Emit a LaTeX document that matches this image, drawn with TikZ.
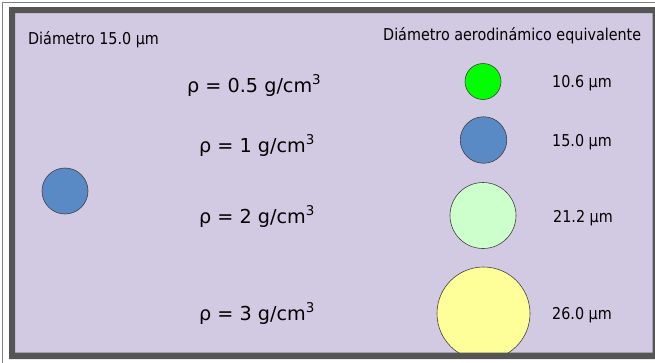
\documentclass[tikz,border=0pt]{standalone}
\usepackage{fontspec}
\setmainfont{DejaVu Sans}
\newfontfamily\narrowfont[FakeStretch=0.88]{DejaVu Sans}
\definecolor{lav}{RGB}{210,202,226}
\definecolor{framegray}{RGB}{85,85,85}
\definecolor{thingray}{RGB}{128,128,128}
\definecolor{pblue}{RGB}{90,138,198}
\definecolor{pgreen}{RGB}{0,255,0}
\definecolor{plgreen}{RGB}{204,255,204}
\definecolor{pyellow}{RGB}{255,255,153}
\definecolor{edge}{RGB}{64,64,64}
\begin{document}
\begin{tikzpicture}[x=1pt,y=-1pt,
  particle/.style={circle, draw=edge, line width=0.6pt, inner sep=0pt},
  smalltxt/.style={anchor=base west, inner sep=0pt, font=\narrowfont\fontsize{16.3}{19}\selectfont},
  bigtxt/.style={anchor=base west, inner sep=0pt, font=\fontsize{19.2}{23}\selectfont}]
\useasboundingbox (0,0) rectangle (655,362);
\clip (0,0) rectangle (655,362);
% page background
\fill[white] (0,0) rectangle (655,362);
\draw[thingray, line width=1pt] (2.5,2.5) rectangle (700,400);
% slide
\fill[lav] (15,13) rectangle (652.5,352.5);
% particles
\begin{scope}
\clip (15,13) rectangle (652.5,352.5);
\node[particle, fill=pblue, minimum size=46pt] (left) at (65,191) {};
\node[particle, fill=pgreen, minimum size=36pt] (p1) at (483,81.5) {};
\node[particle, fill=pblue, minimum size=46.5pt] (p2) at (483.5,140) {};
\node[particle, fill=plgreen, minimum size=66pt] (p3) at (483,215.5) {};
\node[particle, fill=pyellow, minimum size=93pt] (p4) at (483.5,313.5) {};
\end{scope}
% frame
\fill[framegray, even odd rule] (9,7) rectangle (700,359) (15,13) rectangle (652.5,352.5);
% texts
\node[smalltxt] (t0) at (28,44.5) {Diámetro 15.0 μm};
\node[smalltxt] (t1) at (383,40.5) {Diámetro aerodinámico equivalente};
\node[bigtxt] (r1) at (187,92) {ρ = 0.5 g/cm\textsuperscript{3}};
\node[bigtxt] (r2) at (199,152) {ρ = 1 g/cm\textsuperscript{3}};
\node[bigtxt] (r3) at (199,223) {ρ = 2 g/cm\textsuperscript{3}};
\node[bigtxt] (r4) at (199,320) {ρ = 3 g/cm\textsuperscript{3}};
\node[smalltxt] (d1) at (552,87) {10.6 μm};
\node[smalltxt] (d2) at (552,146) {15.0 μm};
\node[smalltxt] (d3) at (553,222) {21.2 μm};
\node[smalltxt] (d4) at (552,319) {26.0 μm};
\end{tikzpicture}
\end{document}
